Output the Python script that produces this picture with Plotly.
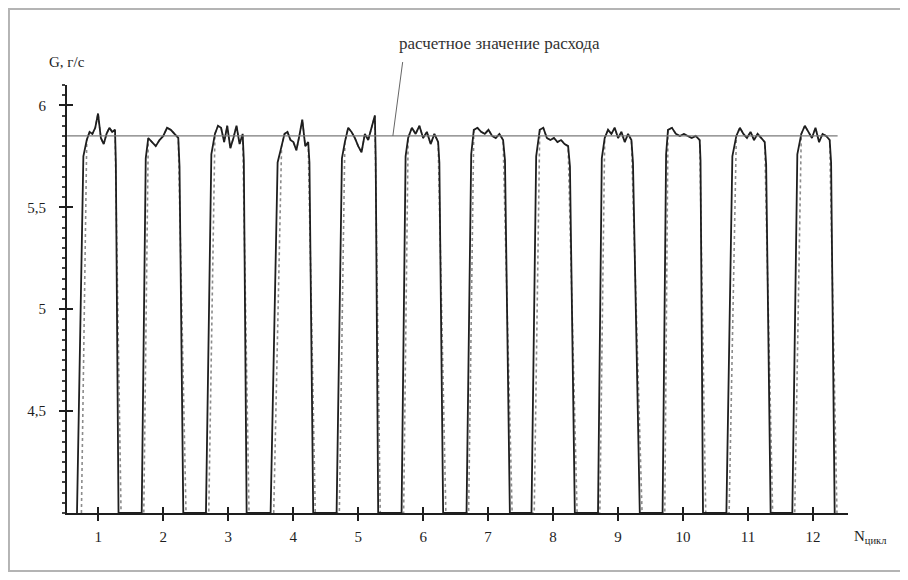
import plotly.graph_objects as go

# ---------------- data ----------------
cycles = [1, 2, 3, 4, 5, 6, 7, 8, 9, 10, 11, 12]
tick_labels_x = ["1", "2", "3", "4", "5", "6", "7", "8", "9", "10", "11", "12"]
y_tick_vals = [4.5, 5.0, 5.5, 6.0]
y_tick_text = ["4,5", "5", "5,5", "6"]

base_g = 4.0
ref_g = 5.85  # расчетное значение расхода
ref_x_start = 0.52
ref_x_end = 12.38

rise_bottom = [0.672, 1.668, 2.657, 3.652, 4.668, 5.668, 6.668, 7.668, 8.692, 9.686, 10.668, 11.683]
rise_knee = [0.77, 1.73, 2.74, 3.76, 4.75, 5.73, 6.74, 7.74, 8.75, 9.74, 10.76, 11.76]
rise_knee_g = [5.75, 5.74, 5.76, 5.72, 5.74, 5.75, 5.76, 5.75, 5.74, 5.76, 5.75, 5.76]
top_start = [0.822, 1.769, 2.795, 3.821, 4.795, 5.769, 6.780, 7.795, 8.795, 9.769, 10.821, 11.821]
top_end = [1.257, 2.231, 3.222, 4.231, 5.257, 6.231, 7.231, 8.232, 9.206, 10.257, 11.258, 12.258]
fall_knee = [1.27, 2.25, 3.24, 4.25, 5.27, 6.25, 7.26, 8.26, 9.23, 10.27, 11.28, 12.28]
fall_knee_g = [5.72, 5.70, 5.73, 5.72, 5.74, 5.72, 5.73, 5.70, 5.72, 5.73, 5.71, 5.72]
fall_bottom = [1.311, 2.308, 3.283, 4.308, 5.308, 6.308, 7.335, 8.335, 9.335, 10.308, 11.349, 12.335]

# second (lighter) record of the same cycles
rise_bottom_b = [0.74, 1.70, 2.70, 3.70, 4.71, 5.70, 6.70, 7.71, 8.72, 9.72, 10.71, 11.72]
fall_bottom_b = [1.35, 2.35, 3.32, 4.34, 5.34, 6.35, 7.37, 8.37, 9.37, 10.35, 11.38, 12.37]

top_g = [
    [5.83, 5.87, 5.86, 5.89, 5.96, 5.84, 5.81, 5.86, 5.89, 5.87, 5.88],
    [5.84, 5.82, 5.80, 5.83, 5.85, 5.89, 5.88, 5.86, 5.84],
    [5.86, 5.90, 5.89, 5.82, 5.90, 5.79, 5.84, 5.90, 5.81, 5.86],
    [5.80, 5.86, 5.87, 5.83, 5.82, 5.78, 5.85, 5.93, 5.80, 5.82],
    [5.82, 5.89, 5.87, 5.84, 5.80, 5.77, 5.86, 5.83, 5.89, 5.95],
    [5.84, 5.89, 5.86, 5.90, 5.84, 5.87, 5.81, 5.86, 5.82],
    [5.88, 5.89, 5.87, 5.86, 5.88, 5.85, 5.84, 5.86, 5.83],
    [5.88, 5.89, 5.84, 5.83, 5.84, 5.82, 5.83, 5.81, 5.80],
    [5.84, 5.88, 5.86, 5.89, 5.84, 5.87, 5.82, 5.86, 5.83],
    [5.88, 5.89, 5.86, 5.85, 5.86, 5.85, 5.84, 5.85, 5.83],
    [5.85, 5.89, 5.86, 5.84, 5.87, 5.83, 5.86, 5.84, 5.82],
    [5.86, 5.90, 5.87, 5.84, 5.89, 5.82, 5.86, 5.85, 5.83],
]

# ---------------- build curves ----------------
def top_points(i):
    vals = top_g[i]
    n = len(vals)
    xs = [top_start[i] + (top_end[i] - top_start[i]) * k / (n - 1) for k in range(n)]
    return xs, vals

main_x, main_y = [], []
light_x, light_y = [], []
for i in range(len(cycles)):
    tx, ty = top_points(i)
    main_x += [rise_bottom[i], rise_knee[i]] + tx + [fall_knee[i], fall_bottom[i]]
    main_y += [base_g, rise_knee_g[i]] + ty + [fall_knee_g[i], base_g]
    light_x += [rise_bottom_b[i]] + tx + [fall_bottom_b[i]]
    light_y += [base_g] + ty + [base_g]

serif = "Liberation Serif"
ink = "#1e1e1e"

fig = go.Figure()
fig.add_trace(go.Scatter(x=light_x, y=light_y, mode="lines",
                         line=dict(color="#8c8c8c", width=1.6, dash="dot"),
                         hoverinfo="skip", showlegend=False))
fig.add_trace(go.Scatter(x=main_x, y=main_y, mode="lines",
                         line=dict(color=ink, width=1.8),
                         showlegend=False))
fig.add_trace(go.Scatter(x=[ref_x_start, ref_x_end], y=[ref_g, ref_g], mode="lines",
                         line=dict(color="#7a7a7a", width=1.2),
                         xaxis="x2", yaxis="y2", showlegend=False))

x_range = [0.518, 12.54]
y_range = [4.0, 6.1]

fig.update_layout(
    width=892, height=564,
    margin=dict(l=59, r=52, t=77, b=59),
    paper_bgcolor="white", plot_bgcolor="white",
    font=dict(family=serif, size=15, color=ink),
    xaxis=dict(range=x_range, showgrid=False, zeroline=False,
               showline=True, linecolor=ink, linewidth=2,
               tickmode="array", tickvals=cycles, ticktext=tick_labels_x,
               ticks="outside", ticklen=6, tickwidth=2, tickcolor=ink,
               ticklabelstandoff=3,
               tickfont=dict(family=serif, size=15, color=ink)),
    yaxis=dict(range=y_range, showgrid=False, zeroline=False,
               showline=True, linecolor=ink, linewidth=2,
               tickmode="array", tickvals=y_tick_vals, ticktext=y_tick_text,
               ticks="outside", ticklen=6, tickwidth=2, tickcolor=ink,
               ticklabelstandoff=10,
               tickfont=dict(family=serif, size=15, color=ink),
               minor=dict(dtick=0.05, tick0=4.0, ticks="outside", ticklen=3,
                          tickwidth=1.5, tickcolor="#444")),
    xaxis2=dict(range=x_range, overlaying="x", anchor="y2", side="bottom",
                showgrid=False, zeroline=False, showline=False,
                tickmode="array", tickvals=cycles, showticklabels=False,
                ticks="inside", ticklen=6, tickwidth=2, tickcolor=ink),
    yaxis2=dict(range=y_range, overlaying="y", anchor="x2", side="left",
                showgrid=False, zeroline=False, showline=False,
                tickmode="array", tickvals=y_tick_vals, showticklabels=False,
                ticks="inside", ticklen=6, tickwidth=2, tickcolor=ink),
    showlegend=False,
)

# outer frame of the scanned figure
fig.add_shape(type="rect", xref="paper", yref="paper",
              x0=-0.0743, x1=1.0717, y0=-0.1355, y1=1.1776,
              line=dict(color="#b4b4b4", width=2), fillcolor="rgba(0,0,0,0)",
              layer="below")

# axis titles
fig.add_annotation(xref="paper", yref="paper", x=-0.026, y=1.054,
                   xanchor="left", yanchor="middle", showarrow=False,
                   text="G, г/с", font=dict(family=serif, size=15, color=ink))
fig.add_annotation(xref="paper", yref="paper", x=1.005, y=-0.056,
                   xanchor="left", yanchor="middle", showarrow=False,
                   text="N<sub>цикл</sub>", font=dict(family=serif, size=15, color=ink))

# label for the reference line
fig.add_annotation(xref="x", yref="paper", x=7.18, y=1.098,
                   xanchor="center", yanchor="middle", showarrow=False,
                   text="расчетное значение расхода",
                   font=dict(family=serif, size=17, color="#333"))
fig.add_annotation(xref="x", yref="y", x=5.534, y=ref_g,
                   axref="x", ayref="y", ax=5.688, ay=6.22,
                   showarrow=True, arrowhead=0, arrowwidth=1, arrowcolor="#666",
                   text="")

fig.write_html("out.html")
